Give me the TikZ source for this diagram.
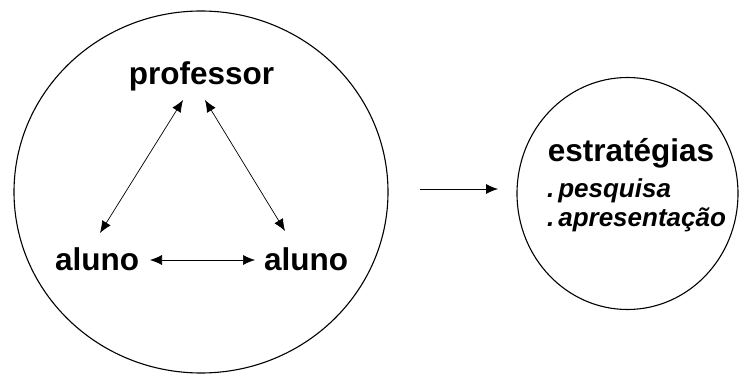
\documentclass[tikz,border=0pt]{standalone}
\usepackage{fontspec}
\setmainfont{Liberation Sans}
\usetikzlibrary{arrows.meta}
\begin{document}
\begin{tikzpicture}[x=1pt,y=-1pt,
  lbl/.style={font=\bfseries\fontsize{31.5}{34}\selectfont, inner sep=0pt, anchor=base},
  item/.style={font=\bfseries\itshape\fontsize{26}{28}\selectfont, inner sep=0pt, anchor=base west},
  ring/.style={draw, line width=1.1pt},
  tip/.style={Latex[length=12pt,width=10pt]},
  arr/.style={line width=0.7pt, {Latex[length=12pt,width=10pt]}-{Latex[length=12pt,width=10pt]}},
  arrone/.style={line width=0.8pt, -{Latex[length=12pt,width=10pt]}}]
\useasboundingbox (0,0) rectangle (739,374);
\draw[ring] (201,192) ellipse [x radius=187, y radius=181];
\draw[ring] (627.5,193.5) ellipse [x radius=110.5, y radius=116];
\node[lbl] (prof) at (201.5,85) {professor};
\node[lbl] (alA) at (97,270) {aluno};
\node[lbl] (alB) at (306,270) {aluno};
\node[lbl] (estr) at (631,162) {estratégias};
\node[item] (pesq) at (547,198) {.\hspace{0.15em}pesquisa};
\node[item] (apres) at (547,227) {.\hspace{0.15em}apresentação};
\coordinate (p1) at (183,100);
\coordinate (a1) at (100,233);
\coordinate (p2) at (205,100);
\coordinate (b1) at (285,231);
\coordinate (a2) at (150,260);
\coordinate (b2) at (255,260);
\coordinate (s1) at (420,189);
\coordinate (s2) at (498,189);
\draw[arr] (a1) -- (p1);
\draw[arr] (p2) -- (b1);
\draw[arr] (a2) -- (b2);
\draw[arrone] (s1) -- (s2);
\end{tikzpicture}
\end{document}
